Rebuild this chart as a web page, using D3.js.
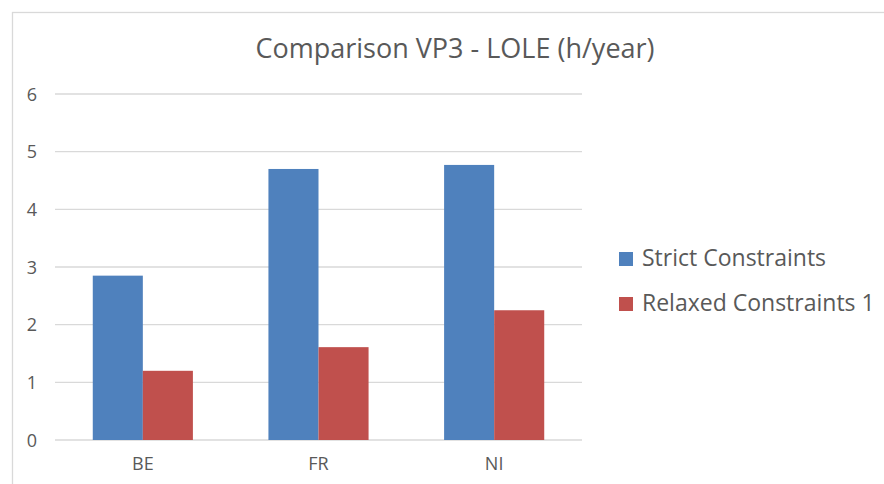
<!DOCTYPE html>
<html>
<head>
<meta charset="utf-8">
<script src="https://cdn.jsdelivr.net/npm/d3@7"></script>
<style>
  body { margin: 0; background: #fff; }
  text { font-family: "Open Sans", sans-serif; fill: #595959; }
</style>
</head>
<body>
<div id="chart"></div>
<script>
// data
var categories = ["BE", "FR", "NI"];
var seriesNames = ["Strict Constraints", "Relaxed Constraints 1"];
var strictValues = [2.85, 4.70, 4.77];
var relaxedValues = [1.20, 1.61, 2.25];
var yTicks = [0, 1, 2, 3, 4, 5, 6];
var title = "Comparison VP3 - LOLE (h/year)";

var colors = ["#4F81BD", "#C0504D"];

var width = 884, height = 484;
var margin = { top: 94, left: 55, right: 302, bottom: 44 };
var plotW = width - margin.left - margin.right,
    plotH = height - margin.top - margin.bottom;

var svg = d3.select("#chart").append("svg")
    .attr("width", width)
    .attr("height", height);

// chart area frame (only left and top edges are visible in the crop)
svg.append("rect")
    .attr("x", 12.5).attr("y", 12.5)
    .attr("width", 900).attr("height", 500)
    .attr("fill", "none")
    .attr("stroke", "#d9d9d9")
    .attr("stroke-width", 1.3);

var table = categories.map(function(c, i) {
    return { cat: c, values: [strictValues[i], relaxedValues[i]] };
});

var g = svg.append("g")
    .attr("transform", "translate(" + margin.left + "," + margin.top + ")");

var x0 = d3.scaleBand()
    .domain(categories)
    .range([0, plotW])
    .paddingInner(0.43)
    .paddingOuter(0.215);

var x1 = d3.scaleBand()
    .domain([0, 1])
    .range([0, x0.bandwidth()]);

var y = d3.scaleLinear()
    .domain([0, 6])
    .range([plotH, 0]);

// gridlines
g.selectAll(".grid")
    .data(yTicks)
    .enter().append("line")
    .attr("class", "grid")
    .attr("x1", 0).attr("x2", plotW)
    .attr("y1", function(d) { return y(d); })
    .attr("y2", function(d) { return y(d); })
    .attr("stroke", "#d9d9d9")
    .attr("stroke-width", 1.3);

// y axis labels
var yAxis = d3.axisLeft(y).tickValues(yTicks).tickFormat(d3.format("d"))
    .tickSize(0).tickPadding(18);
g.append("g")
    .attr("class", "y-axis")
    .call(yAxis)
    .call(function(s) { s.select(".domain").remove(); })
    .selectAll("text")
    .style("font-size", "18px")
    .attr("dy", "0.35em");

// x axis labels
var xAxis = d3.axisBottom(x0).tickSize(0).tickPadding(17);
g.append("g")
    .attr("class", "x-axis")
    .attr("transform", "translate(0," + plotH + ")")
    .call(xAxis)
    .call(function(s) { s.select(".domain").remove(); })
    .selectAll("text")
    .style("font-size", "18px");

// bars
var groups = g.selectAll(".cat")
    .data(table)
    .enter().append("g")
    .attr("class", "cat")
    .attr("transform", function(d) { return "translate(" + x0(d.cat) + ",0)"; });

groups.selectAll("rect")
    .data(function(d) { return d.values; })
    .enter().append("rect")
    .attr("x", function(d, i) { return x1(i); })
    .attr("width", x1.bandwidth())
    .attr("y", function(d) { return y(d); })
    .attr("height", function(d) { return plotH - y(d); })
    .attr("fill", function(d, i) { return colors[i]; });

// title
svg.append("text")
    .attr("x", 455)
    .attr("y", 58)
    .attr("text-anchor", "middle")
    .style("font-size", "27px")
    .text(title);

// legend
var legend = svg.selectAll(".legend")
    .data(seriesNames)
    .enter().append("g")
    .attr("class", "legend")
    .attr("transform", function(d, i) { return "translate(619," + (252 + i * 45) + ")"; });

legend.append("rect")
    .attr("width", 14).attr("height", 14)
    .attr("fill", function(d, i) { return colors[i]; });

legend.append("text")
    .attr("x", 23)
    .attr("y", 14)
    .style("font-size", "23px")
    .text(function(d) { return d; });
</script>
</body>
</html>
